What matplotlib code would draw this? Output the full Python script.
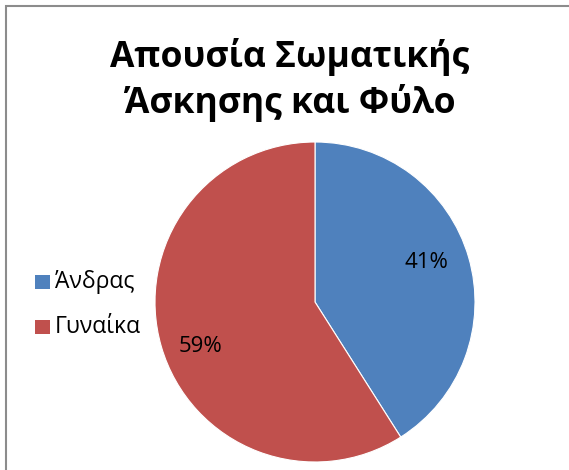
import matplotlib
matplotlib.use("Agg")
import matplotlib.pyplot as plt
from matplotlib.patches import Rectangle

title = "Απουσία Σωματικής\nΆσκησης και Φύλο"
categories = ["Άνδρας", "Γυναίκα"]
shares = [41, 59]
colors = ["#4F81BD", "#C0504D"]

plt.rcParams["font.family"] = ["Open Sans", "DejaVu Sans"]

W, H = 569, 470
fig = plt.figure(figsize=(W / 100, H / 100), dpi=100)
fig.patch.set_facecolor("white")

# chart frame
fig.add_artist(Rectangle((6 / W, -0.1), 1.2, (H - 6) / H + 0.1,
                         transform=fig.transFigure, fill=False,
                         edgecolor="#8c8c8c", linewidth=1.5))

cx, cy, r = 315, 302, 160
ax = fig.add_axes([(cx - r) / W, (H - cy - r) / H, 2 * r / W, 2 * r / H])
wedges, _ = ax.pie(shares, colors=colors, startangle=90, counterclock=False,
                   radius=1.0, wedgeprops=dict(edgecolor="white", linewidth=0.8))
ax.set_xlim(-1, 1)
ax.set_ylim(-1, 1)
ax.set_aspect("equal")
ax.axis("off")

# percentage labels
label_pos = [(426, 262), (200, 346)]
for (px, py), v in zip(label_pos, shares):
    fig.text(px / W, 1 - py / H, f"{v}%", ha="center", va="center",
             fontsize=16, color="black")

fig.text(290 / W, 1 - 80 / H, title, ha="center", va="center",
         fontsize=25.5, fontweight="bold", linespacing=1.3)

# legend
leg_y = [282, 327]
for name, col, y in zip(categories, colors, leg_y):
    fig.add_artist(Rectangle((35 / W, 1 - (y + 7) / H), 15 / W, 14 / H,
                             transform=fig.transFigure, facecolor=col,
                             edgecolor="none"))
    fig.text(55 / W, 1 - y / H, name, ha="left", va="center", fontsize=16.5)

fig.savefig("out.png", dpi=100)
